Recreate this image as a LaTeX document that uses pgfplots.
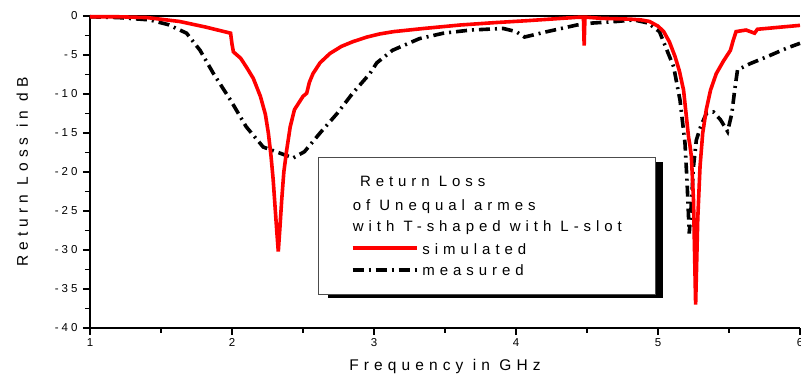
\documentclass[border=0pt]{standalone}
\usepackage{fontspec}
\setmainfont{Liberation Sans}
\newfontfamily\spaced{Liberation Sans}[LetterSpace=33]
\newfontfamily\legspaced{Liberation Sans}[LetterSpace=33]
\newfontfamily\tickspaced{Liberation Sans}[LetterSpace=26]
\usepackage{pgfplots}
\pgfplotsset{compat=1.18}
\begin{document}
\begin{tikzpicture}
\path[use as bounding box] (-90pt,-52pt) rectangle (711pt,328pt);
\begin{axis}[
  at={(0,0)}, anchor=south west,
  width=710pt, height=312pt, scale only axis,
  xmin=1, xmax=6, ymin=-40, ymax=0,
  axis x line*=bottom, axis y line*=left,
  axis line style={line width=1.3pt},
  xtick={1,2,3,4,5,6}, ytick={0,-5,-10,-15,-20,-25,-30,-35,-40},
  minor x tick num=1, minor y tick num=1,
  tick align=outside,
  major tick length=7pt, minor tick length=5pt,
  every tick/.style={black, line width=1.3pt},
  /pgf/number format/assume math mode=true,
  ticklabel style={font=\tickspaced\fontsize{11.5}{13}\selectfont},
  yticklabel style={xshift=-2pt},
  xlabel={\spaced\fontsize{15.5}{17}\selectfont Frequency in GHz},
  ylabel={\spaced\fontsize{15.5}{17}\selectfont Return Loss in dB},
  xlabel style={yshift=-6pt},
  ylabel style={yshift=20pt},
  clip=false,
]
\draw[line width=1.3pt] (rel axis cs:0,1) -- (rel axis cs:1,1);
\addplot[black, line width=3.6pt, dash pattern=on 11pt off 5pt on 2pt off 5pt] coordinates {
(1.0,-0.1) (1.2,-0.2) (1.42,-0.5) (1.55,-1.1) (1.68,-2.2) (1.775,-4.4) (1.87,-7.4) (1.99,-10.8)
(2.10,-14.2) (2.22,-16.8) (2.34,-17.6) (2.43,-18.2) (2.51,-17.4) (2.62,-15.0) (2.74,-12.5)
(2.85,-9.9) (2.97,-7.4) (3.02,-6.0) (3.13,-4.4) (3.32,-2.9) (3.49,-2.2) (3.68,-1.8) (3.91,-1.6)
(4.0,-2.0) (4.06,-2.7) (4.22,-2.0) (4.43,-1.15) (4.54,-0.9) (4.71,-0.7) (4.83,-0.5) (4.93,-0.9)
(5.01,-2.0) (5.11,-6.5) (5.155,-10.8) (5.19,-16.3) (5.205,-21.4) (5.22,-27.9) (5.235,-24.0)
(5.25,-19.3) (5.27,-15.9) (5.30,-14.2) (5.34,-12.5) (5.39,-12.3) (5.44,-13.3) (5.49,-14.8)
(5.52,-12.5) (5.54,-9.5) (5.56,-6.9) (5.65,-6.1) (5.77,-5.2) (5.91,-4.1) (6.0,-3.5)
};
\addplot[red, line width=3.6pt] coordinates {
(1.0,-0.1) (1.2,-0.1) (1.4,-0.2) (1.63,-0.7) (1.81,-1.4) (1.99,-2.2) (2.0,-3.6) (2.01,-4.6)
(2.06,-5.4) (2.10,-6.5) (2.15,-8.0) (2.20,-10.3) (2.235,-12.6) (2.256,-15.0) (2.275,-18.0) (2.29,-21.0) (2.315,-27.5) (2.326,-30.2) (2.338,-27.0)
(2.35,-23.6) (2.365,-20.0) (2.385,-17.2) (2.41,-14.2) (2.44,-12.0) (2.50,-10.3) (2.526,-9.9) (2.545,-8.5) (2.57,-7.4) (2.62,-6.0) (2.69,-4.8)
(2.77,-3.9) (2.85,-3.3) (2.95,-2.7) (3.04,-2.3) (3.14,-2.0) (3.35,-1.6) (3.61,-1.15) (3.85,-0.85) (4.08,-0.6) (4.43,-0.17) (4.475,-0.15)
(4.48,-3.8) (4.485,-0.4) (4.49,-0.15) (4.6,-0.3) (4.8,-0.4) (4.88,-0.5) (4.94,-0.7) (5.0,-1.3) (5.04,-2.0) (5.08,-3.3) (5.12,-5.2) (5.15,-7.0)
(5.18,-9.5) (5.215,-15.5) (5.225,-16.6) (5.235,-18.0) (5.25,-23.6) (5.265,-37.0) (5.28,-26.0)
(5.296,-19.3) (5.315,-15.0) (5.34,-12.0) (5.37,-9.5) (5.41,-7.4) (5.46,-5.8) (5.51,-4.4) (5.53,-3.1) (5.55,-2.0) (5.62,-1.8)
(5.68,-2.2) (5.70,-1.7) (5.88,-1.4) (6.0,-1.2)
};
% legend box
\fill[black] (rel axis cs:0.335,0.532) rectangle (rel axis cs:0.807,0.096);
\filldraw[fill=white, draw=black!70, line width=0.8pt] (rel axis cs:0.322,0.548) rectangle (rel axis cs:0.797,0.109);
\node[anchor=base west, font=\legspaced\fontsize{15}{17}\selectfont, inner sep=0pt] at (rel axis cs:0.380,0.452) {Return Loss};
\node[anchor=base west, font=\legspaced\fontsize{15}{17}\selectfont, inner sep=0pt] at (rel axis cs:0.370,0.378) {of Unequal armes};
\node[anchor=base west, font=\legspaced\fontsize{15}{17}\selectfont, inner sep=0pt] at (rel axis cs:0.370,0.308) {with T-shaped with L-slot};
\draw[red, line width=3.6pt] (rel axis cs:0.370,0.256) -- (rel axis cs:0.460,0.256);
\node[anchor=base west, font=\legspaced\fontsize{15}{17}\selectfont, inner sep=0pt] at (rel axis cs:0.468,0.237) {simulated};
\draw[black, line width=3.6pt, dash pattern=on 11pt off 5pt on 2pt off 5pt] (rel axis cs:0.370,0.186) -- (rel axis cs:0.462,0.186);
\node[anchor=base west, font=\legspaced\fontsize{15}{17}\selectfont, inner sep=0pt] at (rel axis cs:0.468,0.168) {measured};
\end{axis}
\end{tikzpicture}
\end{document}
